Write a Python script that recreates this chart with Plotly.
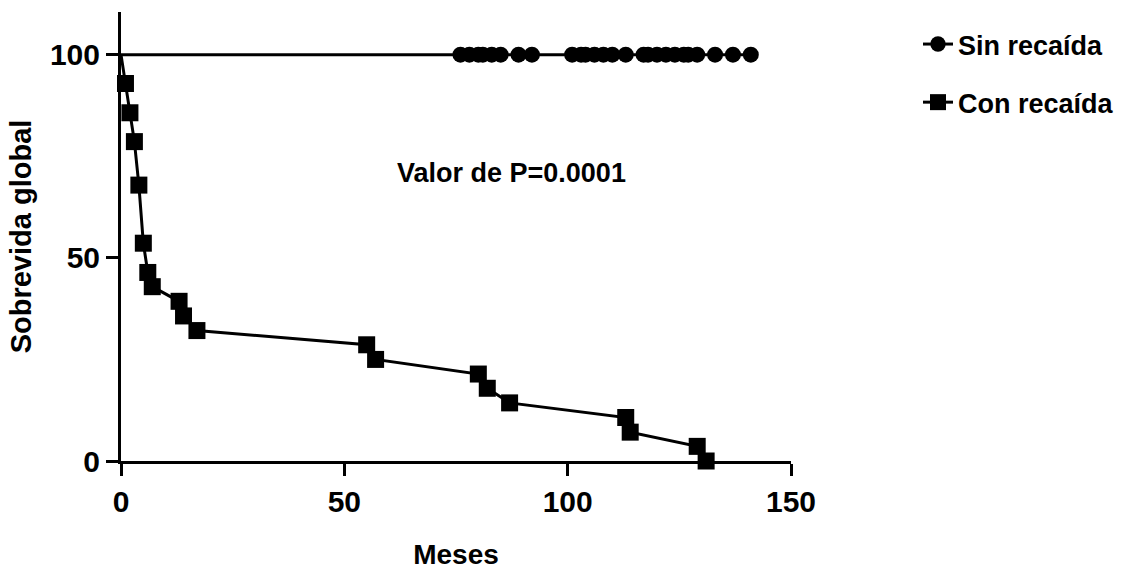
import plotly.graph_objects as go

# Sin recaída (censored, all at 100%)
sin_x = [0, 76, 78, 80, 81, 83, 85, 89, 92, 101, 103, 104, 106, 108, 110, 113,
         117, 118, 120, 122, 124, 126, 127, 129, 133, 137, 141]
sin_y = [100] * len(sin_x)

# Con recaída
con_x = [0, 1, 2, 3, 4, 5, 6, 7, 13, 14, 17, 55, 57, 80, 82, 87, 113, 114, 129, 131]
con_y = [100, 92.9, 85.7, 78.6, 67.9, 53.6, 46.4, 42.9, 39.3, 35.7, 32.1, 28.6,
         25.0, 21.4, 17.9, 14.3, 10.7, 7.1, 3.6, 0]

x_ticks = [0, 50, 100, 150]
y_ticks = [0, 50, 100]

FONT = "Liberation Sans, Arial, sans-serif"

fig = go.Figure()
fig.add_trace(go.Scatter(
    x=sin_x, y=sin_y, mode="lines+markers", name="<b>Sin recaída</b>",
    line=dict(color="black", width=3),
    marker=dict(symbol="circle", color="black", opacity=1,
                line=dict(width=0, color="black"),
                size=[0] + [16] * (len(sin_x) - 1)),
    legendgroup="a", cliponaxis=False,
))
fig.add_trace(go.Scatter(
    x=con_x, y=con_y, mode="lines+markers", name="<b>Con recaída</b>",
    line=dict(color="black", width=3),
    marker=dict(symbol="square", color="black", opacity=1,
                line=dict(width=0, color="black"),
                size=[0] + [17] * (len(con_x) - 1)),
    legendgroup="b", cliponaxis=False,
))

fig.add_annotation(x=87.5, y=71, text="<b>Valor de P=0.0001</b>", showarrow=False,
                   font=dict(size=27, color="black", family=FONT))

fig.update_layout(
    width=1133, height=570,
    margin=dict(l=121, r=342, t=12, b=109, autoexpand=False),
    paper_bgcolor="white", plot_bgcolor="white",
    font=dict(family=FONT, color="black"),
    legend=dict(x=918 / 1133, xref="container", y=1 - 20 / 570, yref="container", yanchor="top",
                xanchor="left", font=dict(size=27, color="black", family=FONT),
                tracegroupgap=20, bgcolor="rgba(0,0,0,0)"),
    showlegend=True,
)
fig.update_xaxes(
    range=[0, 150], tickvals=x_ticks, ticktext=[f"<b>{v}</b>" for v in x_ticks],
    showgrid=False, zeroline=False, showline=True, linecolor="black", linewidth=3,
    ticks="outside", ticklen=12, tickwidth=3, tickcolor="black", automargin=False,
    tickfont=dict(size=30, color="black", family=FONT),
    title=dict(text="<b>Meses</b>", font=dict(size=28, color="black", family=FONT), standoff=28),
)
fig.update_yaxes(
    range=[0, 110.5], tickvals=y_ticks, ticktext=[f"<b>{v}</b>" for v in y_ticks],
    showgrid=False, zeroline=False, showline=True, linecolor="black", linewidth=3,
    ticks="outside", ticklen=12, tickwidth=3, tickcolor="black", automargin=False,
    tickfont=dict(size=30, color="black", family=FONT),
    title=dict(text="<b>Sobrevida global</b>", font=dict(size=29, color="black", family=FONT), standoff=10),
)

fig.write_html("out.html")
